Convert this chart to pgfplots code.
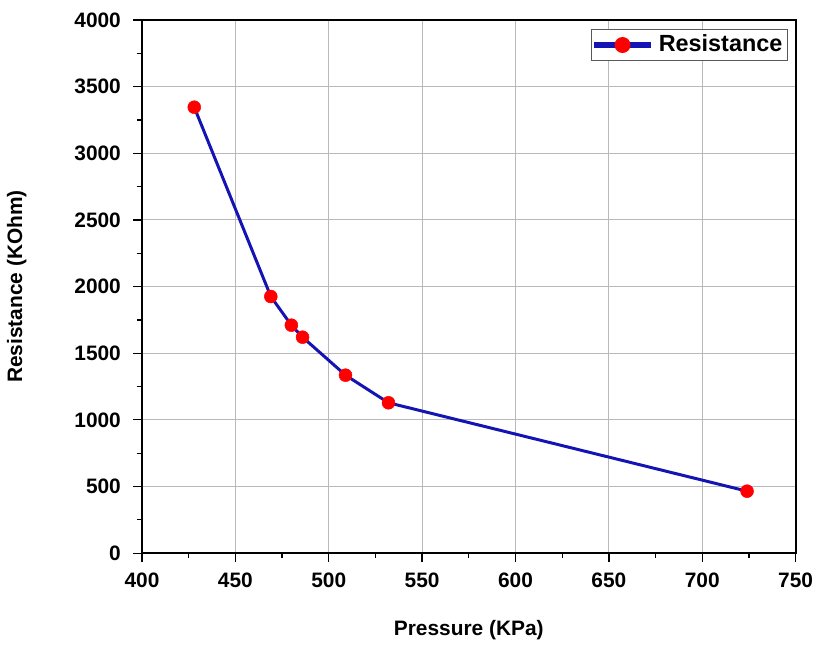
\documentclass[border=0pt]{standalone}
\usepackage{pgfplots}
\pgfplotsset{compat=1.18}
\usepackage{fontspec}
\setmainfont{Liberation Sans}
\definecolor{lineblue}{RGB}{20,20,180}
\begin{document}
\fontsize{21}{24}\selectfont\bfseries
\begin{tikzpicture}
\begin{axis}[
  scale only axis,
  width=657pt,height=536pt,
  xmin=400,xmax=750,ymin=0,ymax=4000,
  xtick={400,450,...,750},ytick={0,500,...,4000},
  minor x tick num=1,minor y tick num=1,
  tick align=outside,tick pos=left,
  major tick length=9pt,minor tick length=5pt,
  every tick/.style={black,line width=1.3pt},
  axis line style={line width=1.8pt},
  grid=major,grid style={gray!55,line width=1pt},
  /pgf/number format/assume math mode=true,
  /pgf/number format/1000 sep={},
  ticklabel style={font=\fontsize{21}{24}\selectfont\bfseries},
  xticklabel style={yshift=-4pt},
  yticklabel style={xshift=-5pt},
  label style={font=\fontsize{21}{25}\selectfont\bfseries},
  xlabel={Pressure (KPa)},ylabel={Resistance (KOhm)},
  xlabel style={yshift=-18pt},
  ylabel style={yshift=34pt},
  legend style={at={(0.988,0.982)},anchor=north east,draw=gray!70!black,line width=1pt,
    font=\fontsize{23.5}{27}\selectfont\bfseries,inner sep=3pt},
  legend image code/.code={
    \fill[lineblue] (0pt,-1.3pt) rectangle (54pt,1.3pt);
    \fill[red] (27pt,0pt) circle (6.5pt);
    \path (60pt,0pt);},
  legend cell align=left,
]
\addplot[lineblue,line width=3pt,mark=*,mark size=6.5pt,
  mark options={fill=red,draw=red,line width=0.5pt}] coordinates {
  (428,3345) (469,1925) (480,1710) (486,1620) (509,1335) (532,1128) (724,465)};
\addlegendentry{Resistance}
\end{axis}
\path (current axis.north) ++(0,20pt);
\end{tikzpicture}
\end{document}
